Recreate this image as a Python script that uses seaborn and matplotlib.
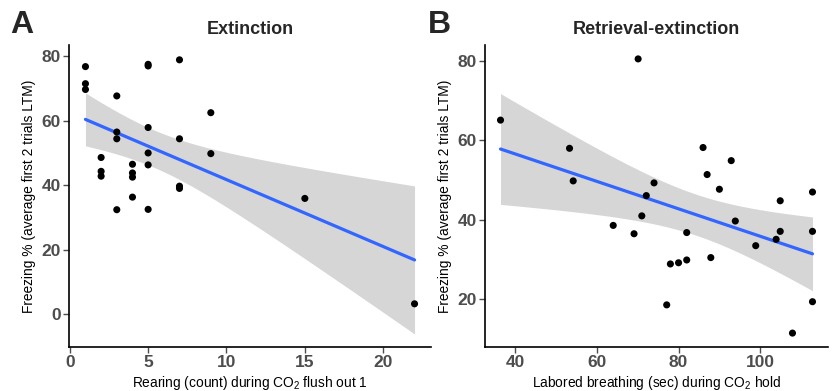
import numpy as np
import pandas as pd
import matplotlib
matplotlib.use("Agg")
import matplotlib.pyplot as plt
import seaborn as sns

# Panel A data: Rearing count vs freezing %
rearing = [1, 1, 1, 2, 2, 2, 3, 3, 3, 3, 4, 4, 4, 4,
           5, 5, 5, 5, 5, 5, 7, 7, 7, 7, 9, 9, 15, 22]
freeze_a = [76.8, 71.5, 69.7, 48.6, 44.3, 42.8, 67.7, 56.5, 54.4, 32.4,
            46.5, 43.8, 42.5, 36.3, 77.5, 77.0, 57.9, 50.0, 46.3, 32.5,
            78.9, 54.4, 39.7, 39.0, 62.5, 49.8, 35.9, 3.2]

# Panel B data: labored breathing (sec) vs freezing %
breathing = [36.4, 70.1, 53.3, 54.2, 74.0, 72.1, 71.0, 64.0, 69.1,
             86.0, 92.9, 87.0, 90.0, 93.9, 82.0, 98.9, 103.9, 104.9,
             104.9, 112.8, 112.8, 112.8, 107.9, 87.9, 78.0, 80.0, 82.0, 77.1]
freeze_b = [65.1, 80.5, 58.0, 49.8, 49.3, 46.1, 41.0, 38.6, 36.5,
            58.2, 54.9, 51.4, 47.7, 39.7, 36.8, 33.5, 35.1, 37.1,
            44.8, 47.0, 37.1, 19.4, 11.5, 30.5, 28.9, 29.2, 29.9, 18.6]

xticks_a = [0, 5, 10, 15, 20]
yticks_a = [0, 20, 40, 60, 80]
xticks_b = [40, 60, 80, 100]
yticks_b = [20, 40, 60, 80]

T_975_DF26 = 2.0555  # t quantile for 95% CI with n-2 = 26 df

sns.set_theme(style="white")
plt.rcParams["font.family"] = ["Liberation Sans", "DejaVu Sans"]
plt.rcParams["mathtext.fontset"] = "custom"
plt.rcParams["mathtext.rm"] = "Liberation Sans"
plt.rcParams["mathtext.it"] = "Liberation Sans:italic"

df_a = pd.DataFrame({"x": rearing, "y": freeze_a})
df_b = pd.DataFrame({"x": breathing, "y": freeze_b})


def lm_band(x, y, npts=100):
    x = np.asarray(x, float)
    y = np.asarray(y, float)
    n = len(x)
    b1, b0 = np.polyfit(x, y, 1)
    resid = y - (b0 + b1 * x)
    s = np.sqrt(np.sum(resid ** 2) / (n - 2))
    xbar = x.mean()
    sxx = np.sum((x - xbar) ** 2)
    grid = np.linspace(x.min(), x.max(), npts)
    fit = b0 + b1 * grid
    se = s * np.sqrt(1.0 / n + (grid - xbar) ** 2 / sxx)
    return grid, fit - T_975_DF26 * se, fit + T_975_DF26 * se


fig = plt.figure(figsize=(8.32, 3.91), dpi=100)
ax_a = fig.add_axes([69/832, 44/391, 362/832, 302/391])
ax_b = fig.add_axes([485/832, 44/391, 343/832, 302/391])

line_kws = dict(color="#3366FF", lw=2.3, zorder=2)
scatter_kws = dict(color="black", s=26, alpha=1, edgecolor="none", zorder=3)

for ax, df, xt, yt, xl, yl, title, xlabel in [
    (ax_a, df_a, xticks_a, yticks_a, (-0.05, 23.05), (-10.2, 83.5),
     "Extinction", "Rearing (count) during CO$_2$ flush out 1"),
    (ax_b, df_b, xticks_b, yticks_b, (32.6, 116.6), (8.0, 84.0),
     "Retrieval-extinction", "Labored breathing (sec) during CO$_2$ hold"),
]:
    gx, lo, hi = lm_band(df["x"], df["y"])
    ax.fill_between(gx, lo, hi, color="#D6D6D6", lw=0, zorder=1)
    sns.regplot(data=df, x="x", y="y", ax=ax, ci=None,
                scatter_kws=scatter_kws, line_kws=line_kws, truncate=True)
    ax.set_xlim(*xl)
    ax.set_ylim(*yl)
    ax.set_xticks(xt)
    ax.set_yticks(yt)
    ax.tick_params(axis="both", labelsize=12.5, colors="#4D4D4D", length=4,
                   width=1.0, direction="out", bottom=True, left=True, pad=2)
    for lab in ax.get_xticklabels() + ax.get_yticklabels():
        lab.set_fontweight("bold")
    for s in ["top", "right"]:
        ax.spines[s].set_visible(False)
    for s in ["left", "bottom"]:
        ax.spines[s].set_color("black")
        ax.spines[s].set_linewidth(1.2)
    ax.set_xlabel(xlabel, fontsize=9.9, color="black", labelpad=3)
    ax.set_ylabel("Freezing % (average first 2 trials LTM)", fontsize=9.9,
                  color="black", labelpad=4)
    ax.set_title(title, fontsize=13, fontweight="bold", pad=8)

fig.text(10/832, 1 - 33/391, "A", fontsize=23, fontweight="bold")
fig.text(428/832, 1 - 33/391, "B", fontsize=23, fontweight="bold")

fig.savefig("out.png", dpi=100, facecolor="white")
